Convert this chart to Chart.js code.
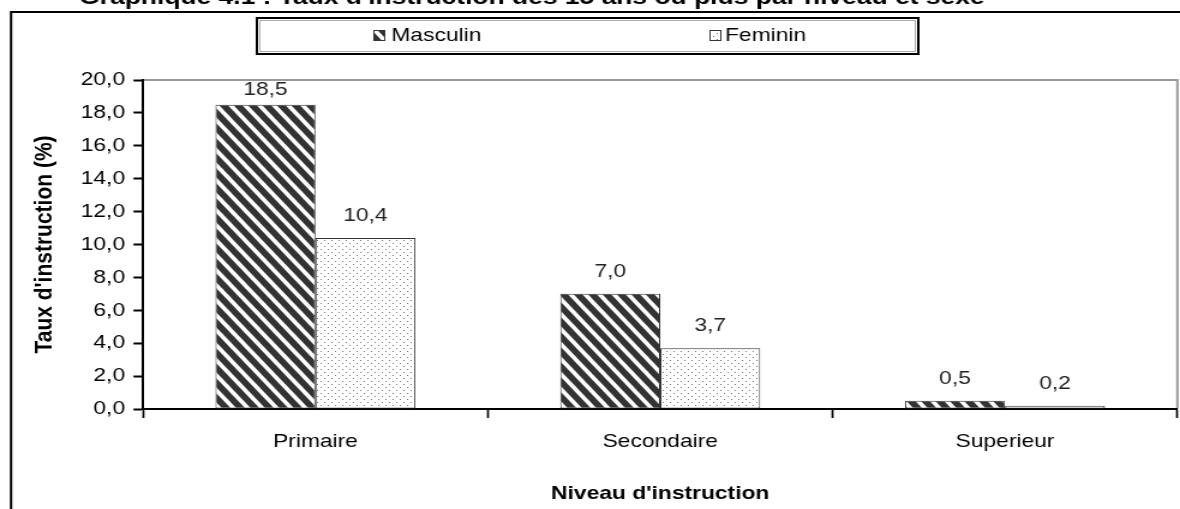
<!DOCTYPE html>
<html>
<head>
<meta charset="utf-8">
<script src="https://cdn.jsdelivr.net/npm/chart.js@4/dist/chart.umd.min.js"></script>
<style>
  body { margin: 0; background: #fff; }
</style>
</head>
<body>
<!-- the reference is horizontally stretched, so the canvas is drawn narrower and widened by CSS -->
<canvas id="chart" width="983" height="509" style="display:block;width:1180px;height:509px"></canvas>
<script>
// Data
const niveaux = ['Primaire', 'Secondaire', 'Superieur'];
const masculin = [18.5, 7.0, 0.5];
const feminin = [10.4, 3.7, 0.2];
const seriesNames = ['Masculin', 'Feminin'];
const yTicks = [0, 2, 4, 6, 8, 10, 12, 14, 16, 18, 20];

const FONT = "'Liberation Sans', Arial, sans-serif";

function fr(v) {
  return v.toFixed(1).replace('.', ',');
}

// Hatched fill for Masculin: dark with white "\" stripes
function stripePattern() {
  const c = document.createElement('canvas');
  const w = 12, h = 15;
  c.width = w; c.height = h;
  const g = c.getContext('2d');
  g.fillStyle = '#333';
  g.fillRect(0, 0, w, h);
  g.strokeStyle = '#fff';
  g.lineWidth = 3.6;
  for (const x0 of [-w, 0, w]) {
    g.beginPath();
    g.moveTo(x0 - w, -h);
    g.lineTo(x0 + 2 * w, 2 * h);
    g.stroke();
  }
  return g.createPattern(c, 'repeat');
}

// Dotted fill for Feminin
function dotPattern() {
  const c = document.createElement('canvas');
  c.width = 6; c.height = 6;
  const g = c.getContext('2d');
  g.fillStyle = '#fff';
  g.fillRect(0, 0, 6, 6);
  g.fillStyle = '#777';
  g.fillRect(0, 0, 1, 1);
  g.fillRect(3, 3, 1, 1);
  return g.createPattern(c, 'repeat');
}

const canvas = document.getElementById('chart');
const ctx = canvas.getContext('2d');
const fills = [stripePattern(), dotPattern()];

// Frame, cut-off title, boxed legend and plot border
const decor = {
  id: 'decor',
  beforeDraw(chart) {
    const g = chart.ctx;
    const a = chart.chartArea;
    g.save();
    g.fillStyle = '#000';
    g.font = 'bold 22px ' + FONT;
    g.textBaseline = 'alphabetic';
    g.fillText("Graphique 4.1 : Taux d'instruction des 15 ans ou plus par niveau et sexe", 66, 4);

    g.strokeStyle = '#000';
    g.lineWidth = 2;
    g.beginPath();
    g.moveTo(9.2, 509);
    g.lineTo(9.2, 12);
    g.lineTo(983, 12);
    g.stroke();

    // plot border (top and right)
    g.strokeStyle = '#999';
    g.lineWidth = 2;
    g.beginPath();
    g.moveTo(a.left, a.top);
    g.lineTo(a.right, a.top);
    g.lineTo(a.right, a.bottom);
    g.stroke();

    // legend box
    g.strokeStyle = '#000';
    g.lineWidth = 2;
    g.strokeRect(214, 18, 551, 36);
    g.strokeStyle = '#aaa';
    g.lineWidth = 1;
    g.strokeRect(216.5, 20.5, 546, 31);

    const items = [{ ix: 311, tx: 326 }, { ix: 591, tx: 604 }];
    g.font = '19px ' + FONT;
    g.textBaseline = 'middle';
    items.forEach((it, i) => {
      g.fillStyle = fills[i];
      g.fillRect(it.ix, 30, 9.5, 11);
      g.strokeStyle = '#333';
      g.lineWidth = 1;
      g.strokeRect(it.ix + 0.5, 30.5, 9, 10);
      g.fillStyle = '#000';
      g.fillText(seriesNames[i], it.tx, 36);
    });
    g.restore();
  },
  afterDatasetsDraw(chart) {
    const g = chart.ctx;
    g.save();
    g.font = '19px ' + FONT;
    g.fillStyle = '#222';
    g.textAlign = 'center';
    g.textBaseline = 'middle';
    chart.data.datasets.forEach((ds, i) => {
      chart.getDatasetMeta(i).data.forEach((bar, j) => {
        const y = Math.max(bar.y - 22, 90);
        g.fillText(fr(ds.data[j]), bar.x, y);
      });
    });
    g.restore();
  }
};

new Chart(ctx, {
  type: 'bar',
  data: {
    labels: niveaux,
    datasets: [
      {
        label: seriesNames[0],
        data: masculin,
        backgroundColor: fills[0],
        borderColor: '#333',
        borderWidth: 1,
        borderSkipped: false
      },
      {
        label: seriesNames[1],
        data: feminin,
        backgroundColor: fills[1],
        borderColor: '#333',
        borderWidth: 1,
        borderSkipped: false
      }
    ]
  },
  options: {
    responsive: false,
    devicePixelRatio: 1,
    animation: false,
    categoryPercentage: 0.58,
    barPercentage: 1.0,
    layout: { padding: { top: 80, right: 2.2, left: 0, bottom: 0 } },
    plugins: {
      legend: { display: false },
      title: { display: false },
      tooltip: { enabled: false }
    },
    scales: {
      x: {
        afterFit(scale) { scale.height = 100; },
        grid: {
          drawOnChartArea: false,
          drawTicks: true,
          tickLength: 9,
          tickColor: '#000',
          tickWidth: 1.7
        },
        border: { display: true, color: '#000', width: 2 },
        ticks: {
          color: '#000',
          padding: 12,
          font: { family: FONT, size: 19 }
        },
        title: {
          display: true,
          text: "Niveau d'instruction",
          color: '#000',
          font: { family: FONT, size: 19, weight: 'bold' },
          padding: { top: 4, bottom: 3.6 }
        }
      },
      y: {
        min: 0,
        max: 20,
        afterFit(scale) { scale.width = 119.2; },
        afterBuildTicks(scale) { scale.ticks = yTicks.map(v => ({ value: v })); },
        grid: {
          drawOnChartArea: false,
          drawTicks: true,
          tickLength: 8,
          tickColor: '#000',
          tickWidth: 2
        },
        border: { display: true, color: '#000', width: 2 },
        ticks: {
          color: '#000',
          padding: 7,
          font: { family: FONT, size: 19 },
          callback: v => fr(v)
        },
        title: {
          display: true,
          text: "Taux d'instruction (%)",
          color: '#000',
          font: { family: FONT, size: 21, weight: 'bold' },
          padding: { top: 25, bottom: 0 }
        }
      }
    }
  },
  plugins: [decor]
});

// keep the stretched display size
canvas.style.width = '1180px';
canvas.style.height = '509px';
</script>
</body>
</html>
